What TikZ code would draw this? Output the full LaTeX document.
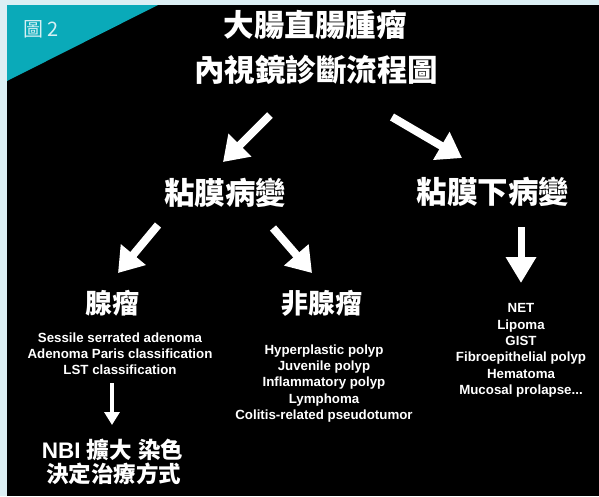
\documentclass[tikz,border=0pt]{standalone}
\usepackage{fontspec}
\setmainfont{Liberation Sans}
\newfontfamily\cjk{Noto Sans CJK TC}
\usetikzlibrary{arrows.meta}
\definecolor{frameblue}{RGB}{220,239,244}
\definecolor{teal}{RGB}{10,170,185}
\definecolor{labelc}{RGB}{215,240,244}
\tikzset{
  txt/.style={text=white, inner sep=0pt, align=center},
  head/.style={txt, font=\cjk\bfseries\fontsize{30.5}{45}\selectfont},
  sub/.style={txt, font=\cjk\bfseries\fontsize{27}{30}\selectfont},
  list/.style={txt, anchor=north, font=\bfseries\fontsize{13.3}{16.3}\selectfont},
  bigarrow/.style={draw=white, line width=8pt, -{Triangle[width=31pt,length=24pt,fill=white]}},
  midarrow/.style={draw=white, line width=7pt, -{Triangle[width=29pt,length=26pt,fill=white]}},
  thinarrow/.style={draw=white, line width=3.4pt, -{Triangle[width=15pt,length=13pt,fill=white]}}
}
\begin{document}
\begin{tikzpicture}[x=1pt,y=-1pt]
\useasboundingbox (0,0) rectangle (599,496);
\fill[frameblue] (0,0) rectangle (599,496);
\fill[black] (7,5) rectangle (599,496);
\fill[teal] (7,5) -- (158,5) -- (7,81) -- cycle;
\node[txt, text=labelc, font=\cjk\fontsize{20}{22}\selectfont] (fig) at (41,29) {圖 2};
% title
\node[head] (title1) at (315,25) {大腸直腸腫瘤};
\node[head] (title2) at (316,70) {內視鏡診斷流程圖};
% level 2
\node[head] (muc) at (225,193) {粘膜病變};
\node[head] (smuc) at (493,192) {粘膜下病變};
% level 3
\node[sub] (aden) at (112,303) {腺瘤};
\node[sub] (naden) at (322,303) {非腺瘤};
% lists
\node[list] (adlist) at (120,332.5) {Sessile serrated adenoma\\Adenoma Paris classification\\LST classification};
\node[list] (nalist) at (324,344.5) {Hyperplastic polyp\\Juvenile polyp\\Inflammatory polyp\\Lymphoma\\Colitis-related pseudotumor};
\node[list] (smlist) at (521,303.5) {NET\\Lipoma\\GIST\\Fibroepithelial polyp\\Hematoma\\Mucosal prolapse...};
% NBI
\node[txt, anchor=base] (nbi1) at (112.5,458) {\bfseries\fontsize{22.5}{26}\selectfont NBI {\cjk 擴大} {\cjk 染色}};
\node[txt, font=\cjk\bfseries\fontsize{22.5}{26}\selectfont] (nbi2) at (113.5,474) {決定治療方式};
% arrow coordinates
\coordinate (a1s) at (270,115); \coordinate (a1e) at (223,162);
\coordinate (a2s) at (392,117); \coordinate (a2e) at (462,158);
\coordinate (a3s) at (158,225); \coordinate (a3e) at (118,273);
\coordinate (a4s) at (273,228); \coordinate (a4e) at (312,273);
\coordinate (a5s) at (521,227); \coordinate (a5e) at (521,283);
\coordinate (a6s) at (112,383); \coordinate (a6e) at (112,425);
\draw[bigarrow] (a1s) -- (a1e);
\draw[bigarrow] (a2s) -- (a2e);
\draw[bigarrow] (a3s) -- (a3e);
\draw[bigarrow] (a4s) -- (a4e);
\draw[midarrow] (a5s) -- (a5e);
\draw[thinarrow] (a6s) -- (a6e);
\end{tikzpicture}
\end{document}
